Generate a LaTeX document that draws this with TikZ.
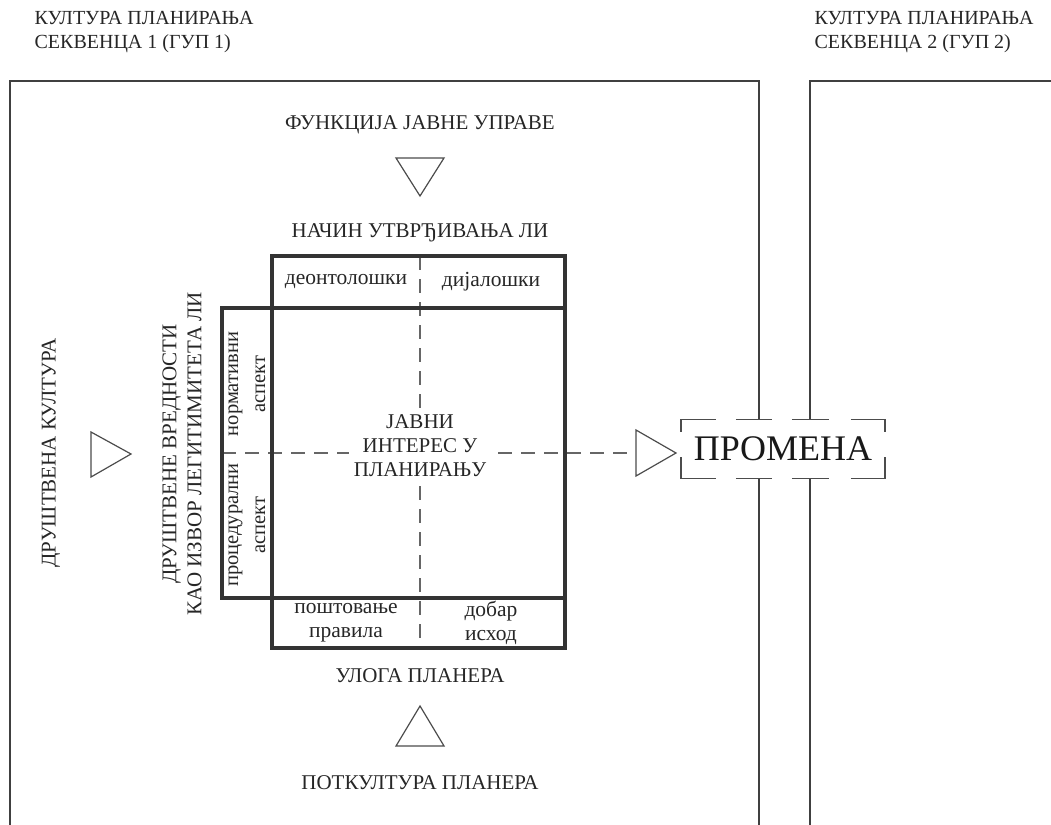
\documentclass[tikz,border=0pt]{standalone}
\usepackage{fontspec}
\setmainfont{Liberation Serif}
\begin{document}
\begin{tikzpicture}[x=1pt,y=-1pt,line width=1.2pt,
  txt/.style={text=black!85,font=\fontsize{21}{24}\selectfont,align=center,inner sep=2pt},
  low/.style={txt,font=\fontsize{21.5}{24}\selectfont},
  hd/.style={txt,anchor=west,align=left,font=\fontsize{20}{24}\selectfont},
  frame/.style={draw=black!75,line width=1.5pt},
  heavy/.style={draw=black!80,line width=4pt},
  dsh/.style={draw=black!60,line width=1.3pt,dash pattern=on 14pt off 9pt},
  tri/.style={draw=black!70,line width=1.2pt,line join=miter},
  chg/.style={draw=black!70,line width=1.3pt}]

   \useasboundingbox (0,0) rectangle (1051,824);

   % frames of the two sequences
      \draw[frame] (10,830) -- (10,81) -- (759,81) -- (759,830);
      \draw[frame] (810,830) -- (810,81) -- (1060,81);

      \path (32,32) node[hd] (h1) {КУЛТУРА ПЛАНИРАЊА\\СЕКВЕНЦА 1 (ГУП 1)};
      \path (812,32) node[hd] (h2) {КУЛТУРА ПЛАНИРАЊА\\СЕКВЕНЦА 2 (ГУП 2)};

   % dashed axes
      \coordinate (t) at (420,256);
      \coordinate (b) at (420,648);
      \coordinate (l) at (222,453);
      \coordinate (r) at (636,453);
      \draw[dsh] (t) -- (b);
      \draw[dsh] (l) -- (r);

   % boxes
      \draw[heavy] (272,256) rectangle (565,308);
      \draw[heavy] (272,308) rectangle (565,598);
      \draw[heavy] (222,308) rectangle (272,598);
      \draw[heavy] (272,598) rectangle (565,648);

      \path (346,282) node[low] (1) {деонтолошки};
      \path (491,282) node[low] (2) {дијалошки};
      \path (247,384) node[low,rotate=90,font=\fontsize{20.5}{27}\selectfont] (3) {нормативни\\аспект};
      \path (247,525) node[low,rotate=90,font=\fontsize{20.5}{27}\selectfont] (4) {процедурални\\аспект};
      \path (346,623) node[low] (5) {поштовање\\правила};
      \path (491,623) node[low] (6) {добар\\исход};
      \path (420,446) node[txt,fill=white,inner sep=5pt] (7) {ЈАВНИ\\ИНТЕРЕС У\\ПЛАНИРАЊУ};

   % outer labels
      \path (420,125) node[txt] (8) {ФУНКЦИЈА ЈАВНЕ УПРАВЕ};
      \path (420,233) node[txt] (9) {НАЧИН УТВРЂИВАЊА ЛИ};
      \path (420,676) node[txt] (10) {УЛОГА ПЛАНЕРА};
      \path (420,783) node[txt] (11) {ПОТКУЛТУРА ПЛАНЕРА};
      \path (51,453) node[txt,rotate=90] (12) {ДРУШТВЕНА КУЛТУРА};
      \path (182,454) node[txt,rotate=90,font=\fontsize{21}{25}\selectfont] (13) {ДРУШТВЕНЕ ВРЕДНОСТИ\\КАО ИЗВОР ЛЕГИТИМИТЕТА ЛИ};

   % triangles
      \draw[tri] (396,158) -- (444,158) -- (420,196) -- cycle;
      \draw[tri] (396,746) -- (444,746) -- (420,706) -- cycle;
      \draw[tri] (91,432) -- (91,477) -- (131,454) -- cycle;
      \draw[tri] (r) -- (636,430) -- (676,453) -- (636,476) -- cycle;

   % change
      \path (783,449) node[fill=white,minimum width=203pt,minimum height=58pt,inner sep=0pt,
         font=\fontsize{36}{40}\selectfont,text=black!90] (14) {ПРОМЕНА};
      \draw[chg,dash pattern=on 35pt off 20pt on 36pt off 20pt on 37pt off 22pt on 40pt]
         (14.north west) -- (14.north east);
      \draw[chg,dash pattern=on 35pt off 20pt on 36pt off 20pt on 37pt off 22pt on 40pt]
         (14.south west) -- (14.south east);
      \draw[chg,dash pattern=on 13pt off 25pt on 30pt] (14.north west) -- (14.south west);
      \draw[chg,dash pattern=on 13pt off 25pt on 30pt] (14.north east) -- (14.south east);

\end{tikzpicture}
\end{document}
